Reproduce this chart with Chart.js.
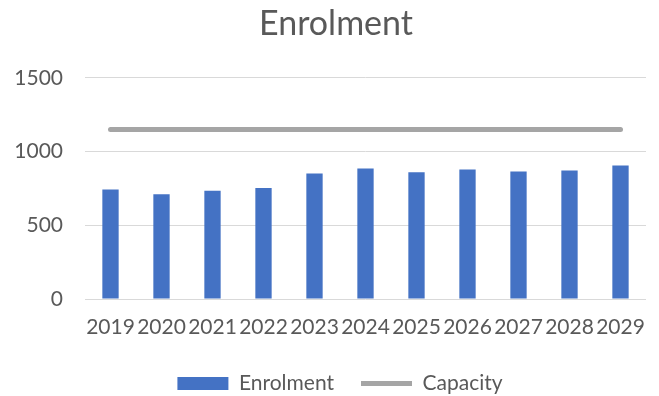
<!DOCTYPE html>
<html>
<head>
<meta charset="utf-8">
<script src="https://cdn.jsdelivr.net/npm/chart.js@4/dist/chart.umd.min.js"></script>
<style>
  html, body { margin: 0; padding: 0; background: #fff; }
  #wrap { width: 659px; height: 396px; position: relative; }
</style>
</head>
<body>
<div id="wrap"><canvas id="chart"></canvas></div>
<script>
// ------------------------------------------------------------
// Data
// ------------------------------------------------------------
const years = ["2019", "2020", "2021", "2022", "2023", "2024", "2025", "2026", "2027", "2028", "2029"];
const enrolment = [743, 711, 734, 752, 851, 885, 860, 878, 865, 872, 905];
const capacity = [1150, 1150, 1150, 1150, 1150, 1150, 1150, 1150, 1150, 1150, 1150];
const yTicks = [0, 500, 1000, 1500];

const TEXT = "#595959";
const FONT = "Lato, 'Liberation Sans', sans-serif";

// The original centres title and legend a little right of the canvas middle
const nudgeBlocks = {
    id: "nudgeBlocks",
    afterLayout(chart) {
        if (chart.legend) chart.legend.left += 19;
        if (chart.titleBlock) chart.titleBlock.left += 11;
    }
};

const ctx = document.getElementById("chart").getContext("2d");

const chart = new Chart(ctx, {
    data: {
        labels: years,
        datasets: [
            {
                type: "bar",
                label: "Enrolment",
                data: enrolment,
                backgroundColor: "#4472C4",
                borderWidth: 0,
                barPercentage: 0.32,
                categoryPercentage: 1,
                pointStyle: "rect",
                order: 2
            },
            {
                type: "line",
                label: "Capacity",
                data: capacity,
                borderColor: "#A5A5A5",
                backgroundColor: "#A5A5A5",
                borderWidth: 5,
                borderCapStyle: "round",
                pointRadius: 0,
                pointStyle: "line",
                order: 1
            }
        ]
    },
    options: {
        responsive: true,
        maintainAspectRatio: false,
        animation: false,
        layout: { padding: { left: 15, right: 13, top: 0, bottom: 0 } },
        scales: {
            x: {
                offset: true,
                grid: { display: false },
                border: { display: false },
                ticks: { color: TEXT, font: { family: FONT, size: 21 }, padding: 8, maxRotation: 0, autoSkip: false },
                afterFit: axis => { axis.height = 47; }
            },
            y: {
                min: 0,
                max: 1500,
                afterBuildTicks: axis => { axis.ticks = yTicks.map(v => ({ value: v })); },
                afterFit: axis => { axis.width = 70; },
                grid: { color: "#D9D9D9", lineWidth: 1, drawTicks: false },
                border: { display: false },
                ticks: {
                    color: TEXT,
                    font: { family: FONT, size: 21 },
                    padding: 22,
                    callback: v => String(v)
                }
            }
        },
        plugins: {
            title: {
                display: true,
                text: "Enrolment",
                color: TEXT,
                font: { family: FONT, size: 34, weight: "normal" },
                padding: { top: 4, bottom: 33 }
            },
            legend: {
                position: "bottom",
                maxHeight: 50,   // cuts the lower padding so items sit near the bottom edge
                labels: {
                    color: TEXT,
                    font: { family: FONT, size: 21 },
                    usePointStyle: true,
                    pointStyleWidth: 51,
                    boxHeight: 13,
                    padding: 27,
                    sort: (a, b) => a.datasetIndex - b.datasetIndex
                }
            },
            tooltip: { enabled: false }
        }
    },
    plugins: [nudgeBlocks]
});
</script>
</body>
</html>
